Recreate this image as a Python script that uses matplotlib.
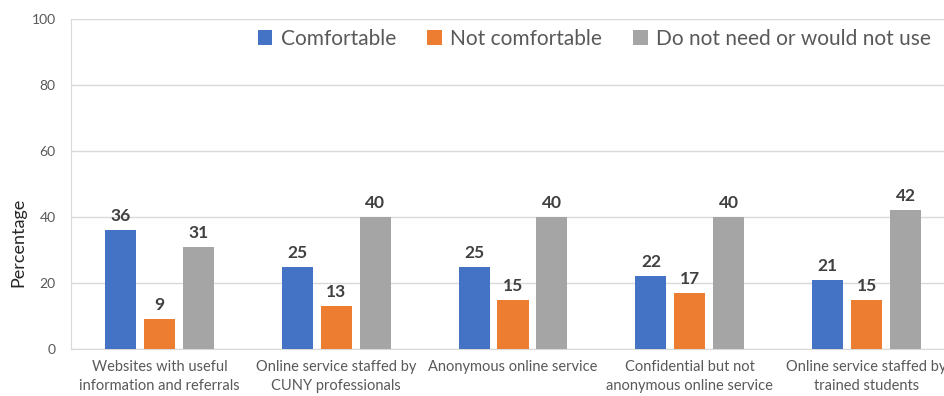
import matplotlib.pyplot as plt
import numpy as np

categories = ["Websites with useful\ninformation and referrals",
              "Online service staffed by\nCUNY professionals",
              "Anonymous online service",
              "Confidential but not\nanonymous online service",
              "Online service staffed by\ntrained students"]
comfortable = [36, 25, 25, 22, 21]
not_comfortable = [9, 13, 15, 17, 15]
no_need = [31, 40, 40, 40, 42]
series_names = ["Comfortable", "Not comfortable", "Do not need or would not use"]
colors = ["#4472C4", "#ED7D31", "#A5A5A5"]

plt.rcParams['font.family'] = ['Lato', 'DejaVu Sans']
txt = "#595959"

fig = plt.figure(figsize=(9.45, 3.96), dpi=100)
ax = fig.add_axes([71/945, 47/396, 884/945, 330/396])

x = np.arange(len(categories))
w = 0.176
step = 0.22
for i, (vals, name, c) in enumerate(zip([comfortable, not_comfortable, no_need], series_names, colors)):
    bars = ax.bar(x + (i - 1) * step, vals, w, color=c, label=name, zorder=3)
    for b, v in zip(bars, vals):
        ax.text(b.get_x() + b.get_width() / 2, v + 1.8, str(v), ha='center', va='bottom',
                fontsize=12.5, fontweight='bold', color="#404040")

ax.set_xlim(-0.5, 4.5)
ax.set_ylim(0, 100)
ax.set_yticks(range(0, 101, 20))
ax.yaxis.grid(True, color="#D9D9D9", linewidth=1, zorder=0)
ax.tick_params(length=0, colors=txt, labelsize=10)
ax.tick_params(axis='y', pad=11)
ax.tick_params(axis='x', pad=8)
ax.set_xticks(x)
ax.set_xticklabels(categories, fontsize=10.5, color=txt, linespacing=1.45)
for s in ['top', 'right']:
    ax.spines[s].set_visible(False)
ax.spines['left'].set_color("#D9D9D9")
ax.spines['bottom'].set_color("#D9D9D9")
fig.text(18/945, 1 - 242/396, "Percentage", rotation=90, ha='center', va='center',
         fontsize=13, color="#262626")

ax.legend(loc='upper right', bbox_to_anchor=(1.005, 0.975), bbox_transform=fig.transFigure,
          ncol=3, frameon=False, fontsize=15, handlelength=0.7, handleheight=0.7,
          handletextpad=0.4, columnspacing=1.5, labelcolor=txt)

fig.savefig("out.png", dpi=100)
